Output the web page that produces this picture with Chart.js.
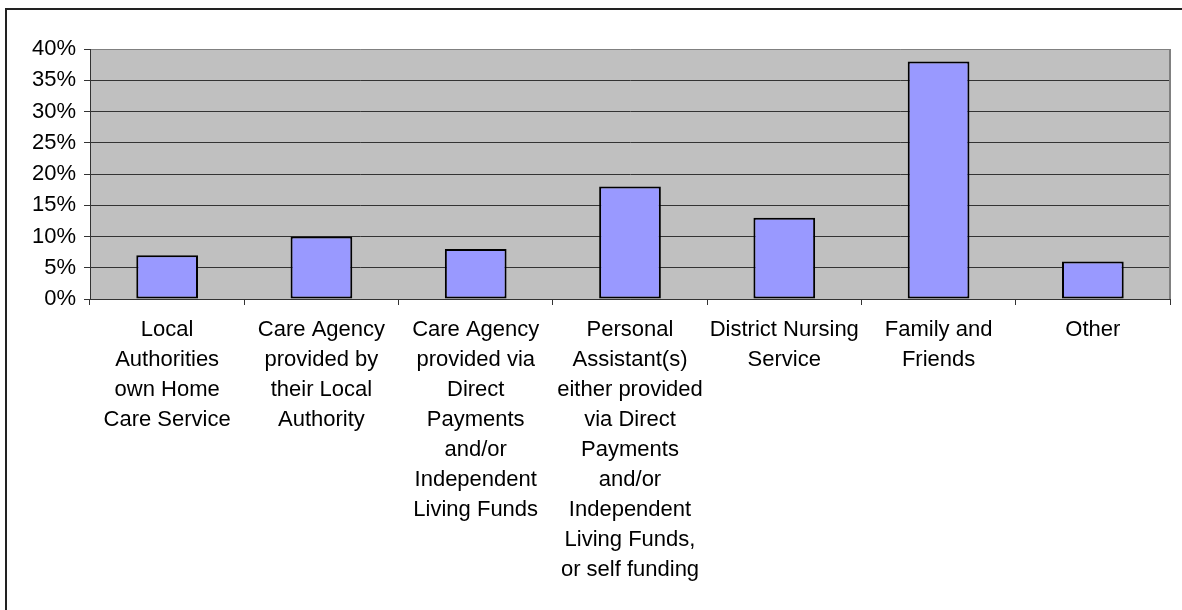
<!DOCTYPE html>
<html>
<head>
<meta charset="utf-8">
<script src="https://cdn.jsdelivr.net/npm/chart.js@4/dist/chart.umd.min.js"></script>
<style>
  html, body { margin: 0; padding: 0; background: #fff; }
  #wrap { position: relative; width: 1182px; height: 610px; overflow: hidden; }
  #frame { position: absolute; left: 5px; top: 8px; width: 1300px; height: 700px;
           border-left: 2px solid #222; border-top: 2px solid #222; pointer-events: none; }
  canvas { position: absolute; left: 0; top: 0; }
</style>
</head>
<body>
<div id="wrap">
  <canvas id="chart" width="1182" height="610"></canvas>
  <div id="frame"></div>
</div>
<script>
// categories, one array of lines per label
const categories = [
  ["Local", "Authorities", "own Home", "Care Service"],
  ["Care Agency", "provided by", "their Local", "Authority"],
  ["Care Agency", "provided via", "Direct", "Payments", "and/or", "Independent", "Living Funds"],
  ["Personal", "Assistant(s)", "either provided", "via Direct", "Payments", "and/or", "Independent", "Living Funds,", "or self funding"],
  ["District Nursing", "Service"],
  ["Family and", "Friends"],
  ["Other"]
];
// percentage of respondents
const shares = [7, 10, 8, 18, 13, 38, 6];
const yMax = 40;
const yStep = 5;

const FONT = "'Liberation Sans', Arial, sans-serif";

const plotBg = {
  id: 'plotBg',
  beforeDraw(chart){
    const {ctx, chartArea: a} = chart;
    ctx.save();
    ctx.fillStyle = '#C0C0C0';
    ctx.fillRect(a.left, a.top, a.right - a.left, a.bottom - a.top);
    ctx.restore();
  },
  afterDraw(chart){
    const {ctx, chartArea: a} = chart;
    ctx.save();
    ctx.strokeStyle = '#808080';
    ctx.lineWidth = 2;
    ctx.beginPath();
    ctx.moveTo(a.right, a.top);
    ctx.lineTo(a.right, a.bottom);
    ctx.stroke();
    ctx.restore();
  }
};

new Chart(document.getElementById('chart'), {
  type: 'bar',
  data: {
    labels: categories,
    datasets: [{
      data: shares,
      backgroundColor: '#9999FF',
      borderColor: '#000',
      borderWidth: 2,
      borderSkipped: false,
      categoryPercentage: 1,
      barPercentage: 0.4
    }]
  },
  options: {
    responsive: false,
    devicePixelRatio: 1,
    animation: false,
    layout: { padding: { top: 49, right: 12, left: 0, bottom: 0 } },
    plugins: { legend: { display: false }, tooltip: { enabled: false } },
    scales: {
      x: {
        grid: { drawOnChartArea: false, drawTicks: true, tickLength: 6, tickColor: '#333', offset: true },
        border: { color: '#333', width: 1 },
        ticks: {
          color: '#000', padding: 10, maxRotation: 0, autoSkip: false,
          font: { family: FONT, size: 22, lineHeight: '30px' }
        },
        afterFit(s){ s.height = 311; }
      },
      y: {
        min: 0, max: yMax,
        grid: {
          color: ctx => (ctx.tick && ctx.tick.value === yMax) ? '#808080' : '#333',
          lineWidth: 1,
          tickLength: 6, tickColor: '#333'
        },
        border: { color: '#333', width: 1 },
        ticks: {
          stepSize: yStep, color: '#000', padding: 8,
          font: { family: FONT, size: 22 },
          callback: v => v + '%'
        },
        afterFit(s){ s.width = 90; }
      }
    }
  },
  plugins: [plotBg]
});
</script>
</body>
</html>
